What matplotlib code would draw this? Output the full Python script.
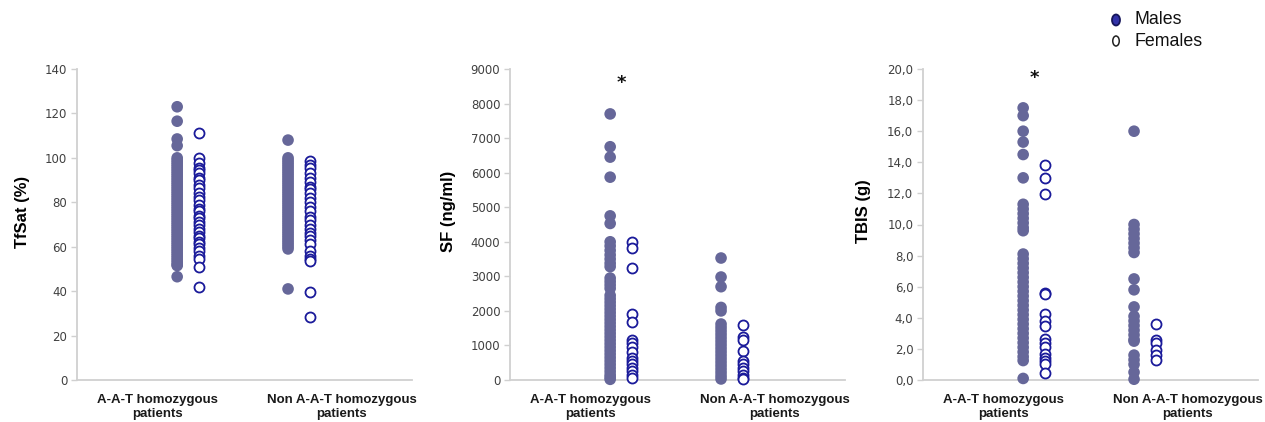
import matplotlib
matplotlib.use("Agg")
import matplotlib.pyplot as plt
from matplotlib.patches import Ellipse
from matplotlib.ticker import MultipleLocator, FuncFormatter

groups = ["A-A-T homozygous\npatients", "Non A-A-T homozygous\npatients"]

# transferrin saturation (%)
tfsat_aat_m = [123, 116.5, 108.5, 105.5, 100, 99, 98, 97, 96, 95, 94, 93, 92, 91, 90, 89, 88,
               87, 86, 85, 84, 83, 82, 81, 80, 79, 78, 77, 76, 75, 74, 73, 72, 71, 70, 69, 68,
               67, 66, 65, 64, 63, 62, 61, 60, 59, 58, 57, 56, 55, 54, 53, 52, 51.5, 46.5]
tfsat_aat_f = [111, 100, 97.5, 95.5, 94.5, 93, 91, 90, 88, 86.5, 84, 82.5, 81, 79, 77, 76, 74,
               73, 71, 70, 68, 66.5, 65, 64, 62, 61, 59.5, 58, 56, 54.5, 51, 42]
tfsat_non_m = [108, 100, 99, 98, 97, 96, 95, 94, 93, 92, 91, 90, 89, 88, 87, 86, 85, 84, 83,
               82, 81, 80, 79, 78, 77, 76, 75, 74, 73, 72, 71, 70, 69, 68, 67, 66, 65, 64, 63,
               62, 61, 60, 59, 41]
tfsat_non_f = [98.5, 97, 95.5, 93, 91, 89, 87, 86, 84, 82, 80, 78, 76, 73.5, 72, 70, 68, 66,
               65, 63, 61, 58, 56, 54.5, 53.5, 39.5, 28.5]

# serum ferritin (ng/ml)
sf_aat_m = [7700, 6750, 6450, 5870, 4750, 4530, 4000, 3880, 3750, 3620, 3500, 3380, 3280,
            2950, 2850, 2750, 2650, 2450, 2350, 2250, 2150, 2050, 1950, 1850, 1750, 1650,
            1550, 1450, 1350, 1250, 1150, 1050, 950, 850, 750, 650, 550, 450, 350, 250, 150,
            80, 20]
sf_aat_f = [3980, 3830, 3230, 1920, 1680, 1150, 1080, 950, 800, 650, 550, 450, 350, 250, 150, 50]
sf_non_m = [3530, 2980, 2700, 2100, 2000, 1620, 1520, 1420, 1320, 1220, 1120, 1020, 920, 820,
            720, 620, 520, 420, 320, 220, 120, 30]
sf_non_f = [1600, 1230, 1150, 840, 560, 450, 350, 250, 150, 60, 20]

# total body iron stores (g)
tbis_aat_m = [17.5, 17.0, 16.0, 15.3, 14.5, 13.0, 11.3, 11.0, 10.7, 10.4, 10.1, 9.8, 9.6, 8.1,
              7.8, 7.5, 7.2, 6.9, 6.6, 6.3, 6.0, 5.7, 5.4, 5.1, 4.8, 4.5, 4.2, 3.9, 3.6, 3.3,
              3.0, 2.7, 2.4, 2.1, 1.8, 1.5, 1.25, 0.1]
tbis_aat_f = [13.8, 13.0, 11.95, 5.6, 5.5, 4.25, 3.8, 3.5, 2.65, 2.4, 2.1, 1.7, 1.4, 1.2, 1.0, 0.45]
tbis_non_m = [16.0, 10.0, 9.7, 9.4, 9.1, 8.8, 8.5, 8.2, 6.5, 5.8, 4.7, 4.1, 3.8, 3.5, 3.2, 2.9,
              2.6, 2.5, 1.6, 1.3, 1.0, 0.5, 0.05]
tbis_non_f = [3.6, 2.6, 2.4, 1.9, 1.6, 1.3]

male_col = "#666799"
female_col = "#1a1a9a"
tick_col = "#404040"
spine_col = "#d0d0d0"

# column positions inside each panel (axes x runs 0..1)
xm1, xf1, xm2, xf2 = 0.299, 0.364, 0.630, 0.696
label_x = [0.24, 0.79]

W, H = 1265, 422
fig = plt.figure(figsize=(W / 100, H / 100), dpi=100)

panels = [
    dict(left=77, width=335, data=(tfsat_aat_m, tfsat_aat_f, tfsat_non_m, tfsat_non_f),
         ymax=140, step=20, fmt=lambda v, p: f"{v:.0f}", ylabel="TfSat (%)",
         lab=(-0.164, 0.54), star=None),
    dict(left=510, width=335, data=(sf_aat_m, sf_aat_f, sf_non_m, sf_non_f),
         ymax=9000, step=1000, fmt=lambda v, p: f"{v:.0f}", ylabel="SF (ng/ml)",
         lab=(-0.185, 0.542), star=8600),
    dict(left=923, width=335, data=(tbis_aat_m, tbis_aat_f, tbis_non_m, tbis_non_f),
         ymax=20, step=2, fmt=lambda v, p: f"{v:.1f}".replace(".", ","), ylabel="TBIS (g)",
         lab=(-0.178, 0.542), star=19.4),
]

bottom_px, top_px = 380, 69
for p in panels:
    ax = fig.add_axes([p["left"] / W, 1 - bottom_px / H, p["width"] / W, (bottom_px - top_px) / H])
    am, af, nm, nf = p["data"]
    ax.scatter([xm1] * len(am), am, s=70, color=male_col, edgecolors="none", zorder=3, clip_on=False)
    ax.scatter([xm2] * len(nm), nm, s=70, color=male_col, edgecolors="none", zorder=3, clip_on=False)
    ax.scatter([xf1] * len(af), af, s=52, facecolors="white", edgecolors=female_col,
               linewidths=1.3, zorder=3, clip_on=False)
    ax.scatter([xf2] * len(nf), nf, s=52, facecolors="white", edgecolors=female_col,
               linewidths=1.3, zorder=3, clip_on=False)

    ax.set_xlim(0, 1)
    ax.set_ylim(0, p["ymax"])
    ax.yaxis.set_major_locator(MultipleLocator(p["step"]))
    ax.yaxis.set_major_formatter(FuncFormatter(p["fmt"]))
    ax.set_xticks(label_x)
    ax.set_xticklabels(groups, fontfamily="Liberation Sans", fontweight="bold",
                       fontsize=9.5, color="#1a1a1a", linespacing=1.2)
    ax.tick_params(axis="x", length=0, pad=10)
    ax.tick_params(axis="y", length=4, width=1, color=spine_col, labelsize=8.5,
                   labelcolor=tick_col, pad=3)
    for lbl in ax.get_yticklabels():
        lbl.set_fontfamily("DejaVu Sans")
    for side in ("top", "right"):
        ax.spines[side].set_visible(False)
    for side in ("left", "bottom"):
        ax.spines[side].set_color(spine_col)
        ax.spines[side].set_linewidth(1.3)

    ax.set_ylabel(p["ylabel"], fontfamily="Liberation Sans", fontweight="bold", fontsize=12,
                  va="center", rotation_mode="default")
    ax.yaxis.set_label_coords(*p["lab"])

    if p["star"] is not None:
        ax.text((xm1 + xf1) / 2, p["star"], "*", ha="center", va="center",
                fontsize=13, fontweight="bold", color="#111111")

# legend in the top right corner
fig.patches.append(Ellipse((1116 / W, 1 - 20 / H), 8 / W, 11 / H, transform=fig.transFigure,
                           facecolor="#3232a8", edgecolor="#15155a", linewidth=1.3))
fig.patches.append(Ellipse((1116 / W, 1 - 41 / H), 6.5 / W, 10 / H, transform=fig.transFigure,
                           facecolor="none", edgecolor="#222222", linewidth=1.1))
fig.text(1135 / W, 1 - 19 / H, "Males", fontfamily="Liberation Sans", fontsize=12.8,
         ha="left", va="center", color="#111111")
fig.text(1135 / W, 1 - 41 / H, "Females", fontfamily="Liberation Sans", fontsize=12.8,
         ha="left", va="center", color="#111111")

fig.savefig("out.png", dpi=100)
